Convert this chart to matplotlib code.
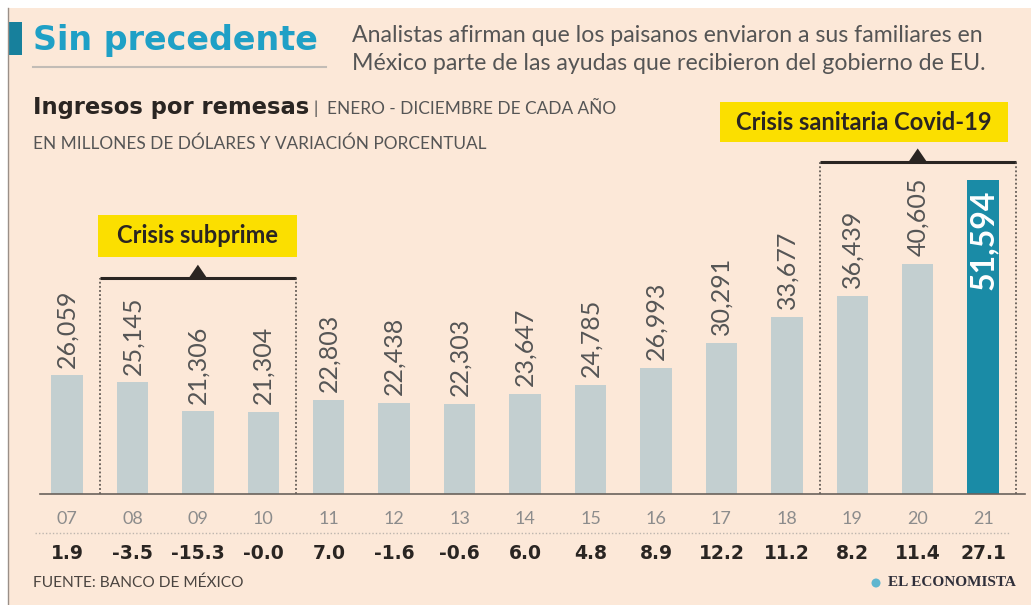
import matplotlib.pyplot as plt
from matplotlib.patches import Rectangle, Polygon, Ellipse

years = ["07", "08", "09", "10", "11", "12", "13", "14", "15", "16", "17", "18", "19", "20", "21"]
remesas = [26059, 25145, 21306, 21304, 22803, 22438, 22303, 23647, 24785, 26993,
           30291, 33677, 36439, 40605, 51594]
variacion = ["1.9", "-3.5", "-15.3", "-0.0", "7.0", "-1.6", "-0.6", "6.0", "4.8", "8.9",
             "12.2", "11.2", "8.2", "11.4", "27.1"]

BG = "#fce8d8"
BAR = "#c3cfd0"
HIGHLIGHT = "#1a8ba6"
TEAL = "#1fa0c6"
YELLOW = "#fbdf00"
DARK = "#2a2522"
GRAY = "#555555"

plt.rcParams["font.family"] = ["Lato", "DejaVu Sans"]

W, H = 1031, 605
fig = plt.figure(figsize=(W / 100, H / 100), dpi=100, facecolor="white")


def fx(px):
    return px / W


def fy(py):
    return 1 - py / H


# peach panel with thin border on the left
fig.patches.append(Rectangle((fx(9), 0), 1 - fx(9), fy(8), transform=fig.transFigure,
                             facecolor=BG, edgecolor="none", zorder=-10))
fig.lines.append(plt.Line2D([fx(8), fx(8)], [0, fy(8)], transform=fig.transFigure,
                            color="#9a8f88", lw=1))

# header
fig.patches.append(Rectangle((fx(9), fy(55)), fx(13), 33 / H, transform=fig.transFigure,
                             facecolor="#17809c", edgecolor="none"))
fig.text(fx(33), fy(50), "Sin precedente", color=TEAL, fontsize=24, fontweight="bold",
         family="DejaVu Sans", va="baseline", ha="left")
fig.lines.append(plt.Line2D([fx(33), fx(326)], [fy(67), fy(67)], transform=fig.transFigure,
                            color="#c2bcb6", lw=1.5))
fig.text(fx(352), fy(36), "Analistas afirman que los paisanos enviaron a sus familiares en",
         color=GRAY, fontsize=16.7, va="center", ha="left")
fig.text(fx(352), fy(63), "México parte de las ayudas que recibieron del gobierno de EU.",
         color=GRAY, fontsize=16.7, va="center", ha="left")

fig.text(fx(33), fy(114), "Ingresos por remesas", color=DARK, fontsize=16.3,
         fontweight="bold", family="DejaVu Sans", va="baseline", ha="left")
fig.text(fx(314), fy(114), "|  ENERO - DICIEMBRE DE CADA AÑO", color=GRAY, fontsize=12.4,
         va="baseline", ha="left")
fig.text(fx(33), fy(149), "EN MILLONES DE DÓLARES Y VARIACIÓN PORCENTUAL", color=GRAY,
         fontsize=12.4, va="baseline", ha="left")

# bar chart
ax = fig.add_axes([fx(40), fy(494), (1025 - 40) / W, (494 - 100) / H])
ax.set_facecolor("none")
x = list(range(len(years)))
colors = [BAR] * (len(years) - 1) + [HIGHLIGHT]
ax.bar(x, remesas, width=0.48, color=colors, zorder=2)
ax.set_xlim(-0.413, 14.64)
ax.set_ylim(10500, 62100)

for i, v in enumerate(remesas):
    label = f"{v:,}"
    if i == len(remesas) - 1:
        ax.text(i, v - 1200, label, rotation=90, ha="center", va="top", color="white",
                fontsize=23, fontweight="bold", zorder=3)
    else:
        ax.text(i, v + 1000, label, rotation=90, ha="center", va="bottom", color=GRAY,
                fontsize=18, fontweight="normal", zorder=3)

for s in ["top", "right", "left"]:
    ax.spines[s].set_visible(False)
ax.spines["bottom"].set_color("#6a625c")
ax.spines["bottom"].set_linewidth(1.2)
ax.set_yticks([])
ax.set_xticks(x)
ax.set_xticklabels(years, fontsize=13, color="#8c8c8c", fontweight="normal")
ax.tick_params(axis="x", length=0, pad=12)

tr = ax.get_xaxis_transform()
ax.plot([-0.49, 14.41], [-0.099, -0.099], transform=tr, color="#bdb5ae", lw=1,
        ls=(0, (1, 1.5)), clip_on=False)
for i, p in enumerate(variacion):
    ax.text(i, -0.15, p, transform=tr, ha="center", va="center", fontsize=13.5,
            fontweight="bold", family="DejaVu Sans", color=DARK, clip_on=False)


def bracket(x0, x1, xm, yline, box, label):
    ax.plot([x0, x1], [yline, yline], transform=tr, color=DARK, lw=2.2, clip_on=False,
            solid_capstyle="butt")
    for xv in (x0, x1):
        ax.plot([xv, xv], [0, yline], transform=tr, color="#4a4440", lw=1.1,
                ls=(0, (1.2, 1.5)), clip_on=False)
    ax.add_patch(Polygon([(xm - 0.14, yline), (xm + 0.14, yline), (xm, yline + 0.034)],
                         closed=True, transform=tr, facecolor=DARK, edgecolor="none",
                         clip_on=False))
    bx0, bx1, by0, by1 = box
    ax.add_patch(Rectangle((bx0, by0), bx1 - bx0, by1 - by0, transform=tr,
                           facecolor=YELLOW, edgecolor="none", clip_on=False))
    ax.text((bx0 + bx1) / 2, (by0 + by1) / 2, label, transform=tr, ha="center",
            va="center", fontsize=17, fontweight="bold", color=DARK, clip_on=False)


bracket(0.5, 3.5, 2, 0.548, (0.474, 3.515, 0.602, 0.708), "Crisis subprime")
bracket(11.5, 14.5, 13, 0.843, (9.98, 14.38, 0.893, 0.995), "Crisis sanitaria Covid-19")

# footer
fig.text(fx(33), fy(583), "FUENTE: BANCO DE MÉXICO", color="#4a4440", fontsize=11.2,
         va="center", ha="left")
fig.text(fx(1016), fy(583), "EL ECONOMISTA", color="#2f2f3a", fontsize=11,
         fontweight="bold", family="Liberation Serif", va="center", ha="right")
fig.patches.append(Ellipse((fx(876), fy(583)), 9 / W, 9 / H, transform=fig.transFigure,
                           facecolor="#5fb6cf", edgecolor="none"))

fig.savefig("out.png", dpi=100, facecolor="white")
